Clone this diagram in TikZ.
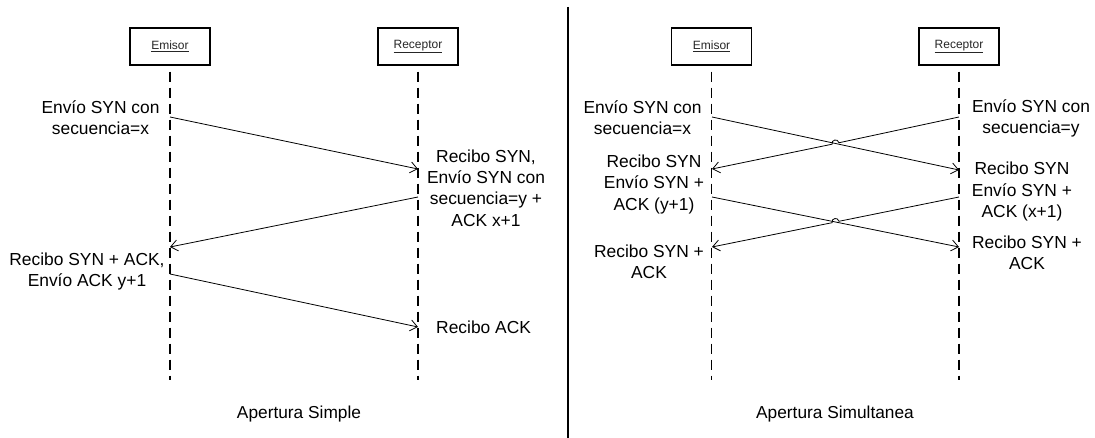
\documentclass[tikz,border=0pt]{standalone}
\usepackage{fontspec}
\setmainfont{Liberation Sans}
\usetikzlibrary{arrows.meta,calc}
\begin{document}
\begin{tikzpicture}[x=1pt,y=-1pt,
  actor/.style={draw, line width=1.3pt, minimum width=80pt, minimum height=37pt,
    inner sep=0pt, font=\fontsize{12}{13}\selectfont, text=black!85},
  life/.style={line width=1.6pt, dash pattern=on 10pt off 6pt, dash phase=10pt},
  msg/.style={line width=0.8pt, -{Straight Barb[length=7pt,width=11pt,line width=0.8pt]}},
  lbl/.style={font=\fontsize{17.4}{21.3}\selectfont, align=center, inner sep=0pt},
  caption/.style={font=\fontsize{17.3}{21}\selectfont, inner sep=0pt}]
\useasboundingbox (0,0) rectangle (1095,438);

% ---------- separator ----------
\coordinate (sepTop) at (568,7);
\coordinate (sepBot) at (568,438);
\draw[line width=2.6pt] (sepTop) -- (sepBot);

% ---------- simple opening ----------
\node[actor] (emA) at (170,46.5) {\underline{Emisor}};
\node[actor] (reA) at (418,46.5) {\underline{Receptor}};
\coordinate (emAend) at (170,380);
\coordinate (reAend) at (418,380);
\draw[life] (emA.south) -- (emAend);
\draw[life] (reA.south) -- (reAend);

\coordinate (a1s) at (170,117);
\coordinate (a1e) at (418,169);
\coordinate (a2s) at (418,197);
\coordinate (a2e) at (170,247);
\coordinate (a3s) at (170,274);
\coordinate (a3e) at (418,327);
\draw[msg] (a1s) -- (a1e);
\draw[msg] (a2s) -- (a2e);
\draw[msg] (a3s) -- (a3e);

\node[lbl] (tA1) at (100.5,118) {Envío SYN con\\secuencia=x};
\node[lbl] (tA2) at (486,188) {Recibo SYN,\\Envío SYN con\\secuencia=y +\\ACK x+1};
\node[lbl] (tA3) at (87,271.5) {Recibo SYN + ACK,\\Envío ACK y+1};
\node[lbl, anchor=west] (tA4) at (436,327) {Recibo ACK};
\node[caption] (capA) at (299,414) {Apertura Simple};

% ---------- simultaneous opening ----------
\node[actor] (emB) at (711.5,46.5) {\underline{Emisor}};
\node[actor] (reB) at (959,46.5) {\underline{Receptor}};
\coordinate (emBend) at (711.5,380);
\coordinate (reBend) at (959,380);
\draw[life] (emB.south) -- (emBend);
\draw[life] (reB.south) -- (reBend);

\coordinate (b1s) at (712,117);
\coordinate (b1e) at (959,170);
\coordinate (b2s) at (959,117);
\coordinate (b2e) at (712,169);
\coordinate (b3s) at (712,197);
\coordinate (b3e) at (959,247);
\coordinate (b4s) at (959,197);
\coordinate (b4e) at (712,247);

% crossing points and the small jumps drawn on the rising messages
\coordinate (x1) at ($(b1s)!0.5!(b1e)$);
\coordinate (x2) at ($(b3s)!0.5!(b3e)$);
\coordinate (j1a) at ($(x1)!3.5pt!(b2s)$);
\coordinate (j1b) at ($(x1)!3.5pt!(b2e)$);
\coordinate (k1a) at ($(j1a)!4.7pt!-90:(x1)$);
\coordinate (k1b) at ($(j1b)!4.7pt!90:(x1)$);
\coordinate (j2a) at ($(x2)!3.5pt!(b4s)$);
\coordinate (j2b) at ($(x2)!3.5pt!(b4e)$);
\coordinate (k2a) at ($(j2a)!4.7pt!-90:(x2)$);
\coordinate (k2b) at ($(j2b)!4.7pt!90:(x2)$);

\draw[msg] (b1s) -- (b1e);
\draw[msg] (b2s) -- (j1a) .. controls (k1a) and (k1b) .. (j1b) -- (b2e);
\draw[msg] (b3s) -- (b3e);
\draw[msg] (b4s) -- (j2a) .. controls (k2a) and (k2b) .. (j2b) -- (b4e);

\node[lbl] (tB1) at (642.5,118) {Envío SYN con\\secuencia=x};
\node[lbl] (tB2) at (654,184.5) {Recibo SYN\\Envío SYN +\\ACK (y+1)};
\node[lbl] (tB3) at (649,261.5) {Recibo SYN +\\ACK};
\node[lbl] (tB4) at (1031,118.5) {Envío SYN con\\secuencia=y};
\node[lbl] (tB5) at (1022,191.5) {Recibo SYN\\Envío SYN +\\ACK (x+1)};
\node[lbl] (tB6) at (1027,252.5) {Recibo SYN +\\ACK};
\node[caption] (capB) at (835,414) {Apertura Simultanea};
\end{tikzpicture}
\end{document}
